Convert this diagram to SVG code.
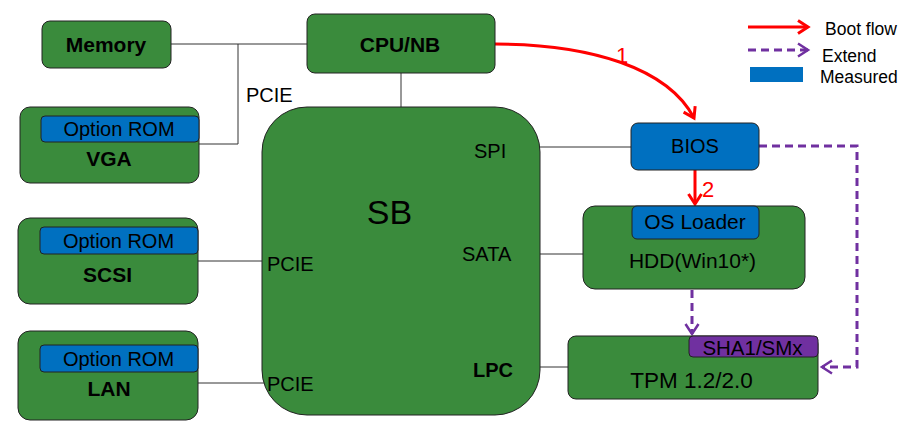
<svg xmlns="http://www.w3.org/2000/svg" width="907" height="424" viewBox="0 0 907 424">
<defs>
<style>
.g{fill:#3A8B3C;stroke:#222;stroke-width:1}
.b{fill:#0070C0;stroke:#222;stroke-width:1}
.p{fill:#7030A0;stroke:#222;stroke-width:1}
.t{font-family:"Liberation Sans",Arial,sans-serif;fill:#000;font-size:20px}
.bd{font-weight:bold;font-size:21px}
.m{text-anchor:middle}
.lg{font-size:17.5px}
.ln{stroke:#333;stroke-width:1;fill:none}
.red{stroke:#FF0000;stroke-width:3;fill:none}
.pur{stroke:#7030A0;stroke-width:3;fill:none;stroke-dasharray:8 5}
.num{fill:#FF0000;font-size:22px}
</style>
<marker id="ar" viewBox="0 0 16 16" refX="12" refY="8" markerWidth="16" markerHeight="16" markerUnits="userSpaceOnUse" orient="auto">
<path d="M2,1.5 L12,8 L2,14.5" fill="none" stroke="#FF0000" stroke-width="3"/>
</marker>
<marker id="ap" viewBox="0 0 16 16" refX="12" refY="8" markerWidth="16" markerHeight="16" markerUnits="userSpaceOnUse" orient="auto">
<path d="M2,1.5 L12,8 L2,14.5" fill="none" stroke="#7030A0" stroke-width="2.5"/>
</marker>
</defs>
<rect width="907" height="424" fill="#fff"/>
<g id="connectors">
<path class="ln" d="M171,44 H307"/>
<path class="ln" d="M238,44 V144 H199"/>
<path class="ln" d="M401,73 V107"/>
<path class="ln" d="M540,147 H631"/>
<path class="ln" d="M540,254 H583"/>
<path class="ln" d="M540,367 H568"/>
<path class="ln" d="M198,261 H262"/>
<path class="ln" d="M198,383 H264"/>
<path class="red" d="M495,44 C590,44 668,68 694,118" marker-end="url(#ar)"/>
<path class="red" d="M695,170 V204" marker-end="url(#ar)"/>
<path class="pur" d="M759,146 H857 V367 H822" marker-end="url(#ap)"/>
<path class="pur" d="M692,290 V334" marker-end="url(#ap)"/>
<text class="t" x="246" y="102">PCIE</text>
<text class="t num" x="616" y="63">1</text>
<text class="t num" x="702" y="197">2</text>
</g>
<g id="memory">
<rect class="g" x="42" y="21" width="129" height="47" rx="8"/>
<text class="t bd m" x="106" y="52">Memory</text>
</g>
<g id="vga">
<rect class="g" x="20" y="107" width="179" height="76" rx="10"/>
<rect class="b" x="41" y="116" width="158" height="26" rx="4"/>
<text class="t m" x="119" y="136">Option ROM</text>
<text class="t bd m" x="109" y="166">VGA</text>
</g>
<g id="scsi">
<rect class="g" x="18" y="218" width="180" height="86" rx="12"/>
<rect class="b" x="40" y="227" width="158" height="27" rx="4"/>
<text class="t m" x="118.5" y="248">Option ROM</text>
<text class="t bd m" x="107.5" y="282">SCSI</text>
</g>
<g id="lan">
<rect class="g" x="18" y="331" width="180" height="89" rx="12"/>
<rect class="b" x="40" y="345" width="158" height="27" rx="4"/>
<text class="t m" x="118.5" y="366">Option ROM</text>
<text class="t bd m" x="109" y="396">LAN</text>
</g>
<g id="cpunb">
<rect class="g" x="307" y="14" width="188" height="59" rx="8"/>
<text class="t bd m" x="400" y="52">CPU/NB</text>
</g>
<g id="sb">
<rect class="g" x="262" y="107" width="278" height="308" rx="45"/>
<text class="t m" x="389.5" y="224" style="font-size:34px">SB</text>
<text class="t" x="474" y="158">SPI</text>
<text class="t" x="462" y="261">SATA</text>
<text class="t" x="267" y="271">PCIE</text>
<text class="t" x="267" y="391">PCIE</text>
<text class="t" x="473" y="377" style="font-weight:bold">LPC</text>
</g>
<g id="bios">
<rect class="b" x="631" y="123" width="128" height="47" rx="7"/>
<text class="t m" x="695" y="153">BIOS</text>
</g>
<g id="hdd">
<rect class="g" x="583" y="206" width="222" height="83" rx="12"/>
<rect class="b" x="632" y="206" width="127" height="33" rx="5"/>
<text class="t m" x="695" y="229" style="font-size:21px">OS Loader</text>
<text class="t m" x="692.5" y="268" style="font-size:21px">HDD(Win10*)</text>
</g>
<g id="tpm">
<rect class="g" x="568" y="336" width="250" height="63" rx="8"/>
<rect class="p" x="689" y="336" width="129" height="21" rx="4"/>
<text class="t m" x="752.5" y="355" style="font-size:20.5px">SHA1/SMx</text>
<text class="t m" x="691.5" y="388" style="font-size:22.5px">TPM 1.2/2.0</text>
</g>
<g id="legend">
<path class="red" d="M748,27 H808" marker-end="url(#ar)"/>
<text class="t lg" x="825" y="35">Boot flow</text>
<path class="pur" d="M748,50 H808" marker-end="url(#ap)"/>
<text class="t lg" x="822" y="62">Extend</text>
<rect x="750" y="67" width="53" height="15" fill="#0070C0"/>
<text class="t lg" x="820" y="83">Measured</text>
</g>
</svg>
